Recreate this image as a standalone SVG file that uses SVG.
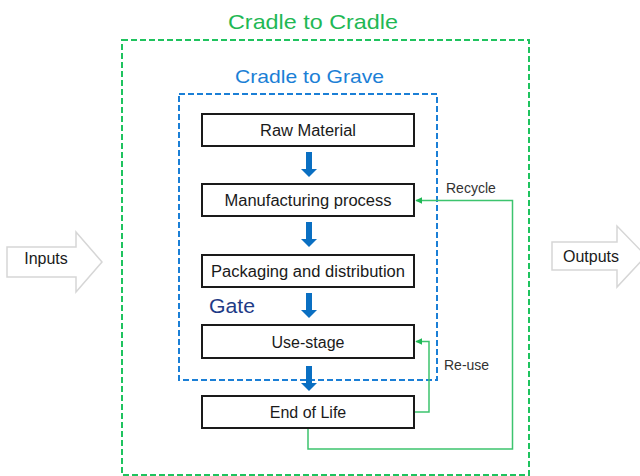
<svg xmlns="http://www.w3.org/2000/svg" width="640" height="476" viewBox="0 0 640 476">
<style>
text{font-family:"Liberation Sans",Arial,sans-serif;}
.box{fill:#fff;stroke:#1a1a1a;stroke-width:2;}
.lbl{font-size:16px;fill:#1a1a1a;text-anchor:middle;}
.blk{fill:#fff;stroke:#d6d6d6;stroke-width:1.5;}
.loop{fill:none;stroke:#3cc46e;stroke-width:1.5;}
.small{font-size:14px;fill:#333;}
</style>
<defs>
<marker id="ga" viewBox="0 0 10 10" refX="9" refY="5" markerWidth="7" markerHeight="7" markerUnits="userSpaceOnUse" orient="auto">
<path d="M0,0 L10,5 L0,10 Z" fill="#1fb855"/>
</marker>
<path id="down" d="M-3,0 H3 V17 H8 L0,25 L-8,17 H-3 Z" fill="#0a6fc2"/>
</defs>
<g id="cradle-to-cradle">
<rect x="122" y="40" width="407" height="435" fill="none" stroke="#1fc35e" stroke-width="2" stroke-dasharray="6,3"/>
<text x="313" y="29" font-size="21" fill="#1fb855" text-anchor="middle" textLength="170" lengthAdjust="spacingAndGlyphs">Cradle to Cradle</text>
</g>
<g id="cradle-to-grave">
<rect x="179" y="94" width="258" height="286" fill="none" stroke="#1b7fd6" stroke-width="2" stroke-dasharray="6,3"/>
<text x="309.5" y="83" font-size="18.6" fill="#1b7fd6" text-anchor="middle" textLength="149" lengthAdjust="spacingAndGlyphs">Cradle to Grave</text>
</g>
<g id="gate"><text x="209" y="313" font-size="20.5" fill="#1f3b87" textLength="46" lengthAdjust="spacingAndGlyphs">Gate</text></g>
<g id="inputs">
<path class="blk" d="M7,247 H76 V232 L102,262 L76,292 V277 H7 Z"/>
<text x="46" y="264" class="lbl" font-size="15.5">Inputs</text>
</g>
<g id="outputs">
<path class="blk" d="M552,242 H617 V226 L646,256 L617,287 V270 H552 Z"/>
<text x="591" y="262" class="lbl" font-size="15.5">Outputs</text>
</g>
<g id="raw-material"><rect class="box" x="202" y="114" width="212" height="32"/><text class="lbl" x="308" y="136" textLength="96" lengthAdjust="spacingAndGlyphs">Raw Material</text></g>
<g id="manufacturing"><rect class="box" x="202" y="184" width="212" height="32"/><text class="lbl" x="308" y="206" textLength="167" lengthAdjust="spacingAndGlyphs">Manufacturing process</text></g>
<g id="packaging"><rect class="box" x="202" y="255" width="212" height="32"/><text class="lbl" x="308" y="277" textLength="194" lengthAdjust="spacingAndGlyphs">Packaging and distribution</text></g>
<g id="use-stage"><rect class="box" x="202" y="325" width="212" height="33"/><text class="lbl" x="308" y="348">Use-stage</text></g>
<g id="end-of-life"><rect class="box" x="202" y="396" width="212" height="32"/><text class="lbl" x="308" y="418">End of Life</text></g>
<g id="connectors">
<use href="#down" x="309" y="152"/>
<use href="#down" x="309" y="222"/>
<use href="#down" x="309" y="293"/>
<use href="#down" x="309" y="366"/>
<path class="loop" d="M308,429 V449 H512.5 V200.5 H416" marker-end="url(#ga)"/>
<path class="loop" d="M415,412 H429 V341.5 H416" marker-end="url(#ga)"/>
<text class="small" x="446" y="193">Recycle</text>
<text class="small" x="444" y="370">Re-use</text>
</g>
</svg>
